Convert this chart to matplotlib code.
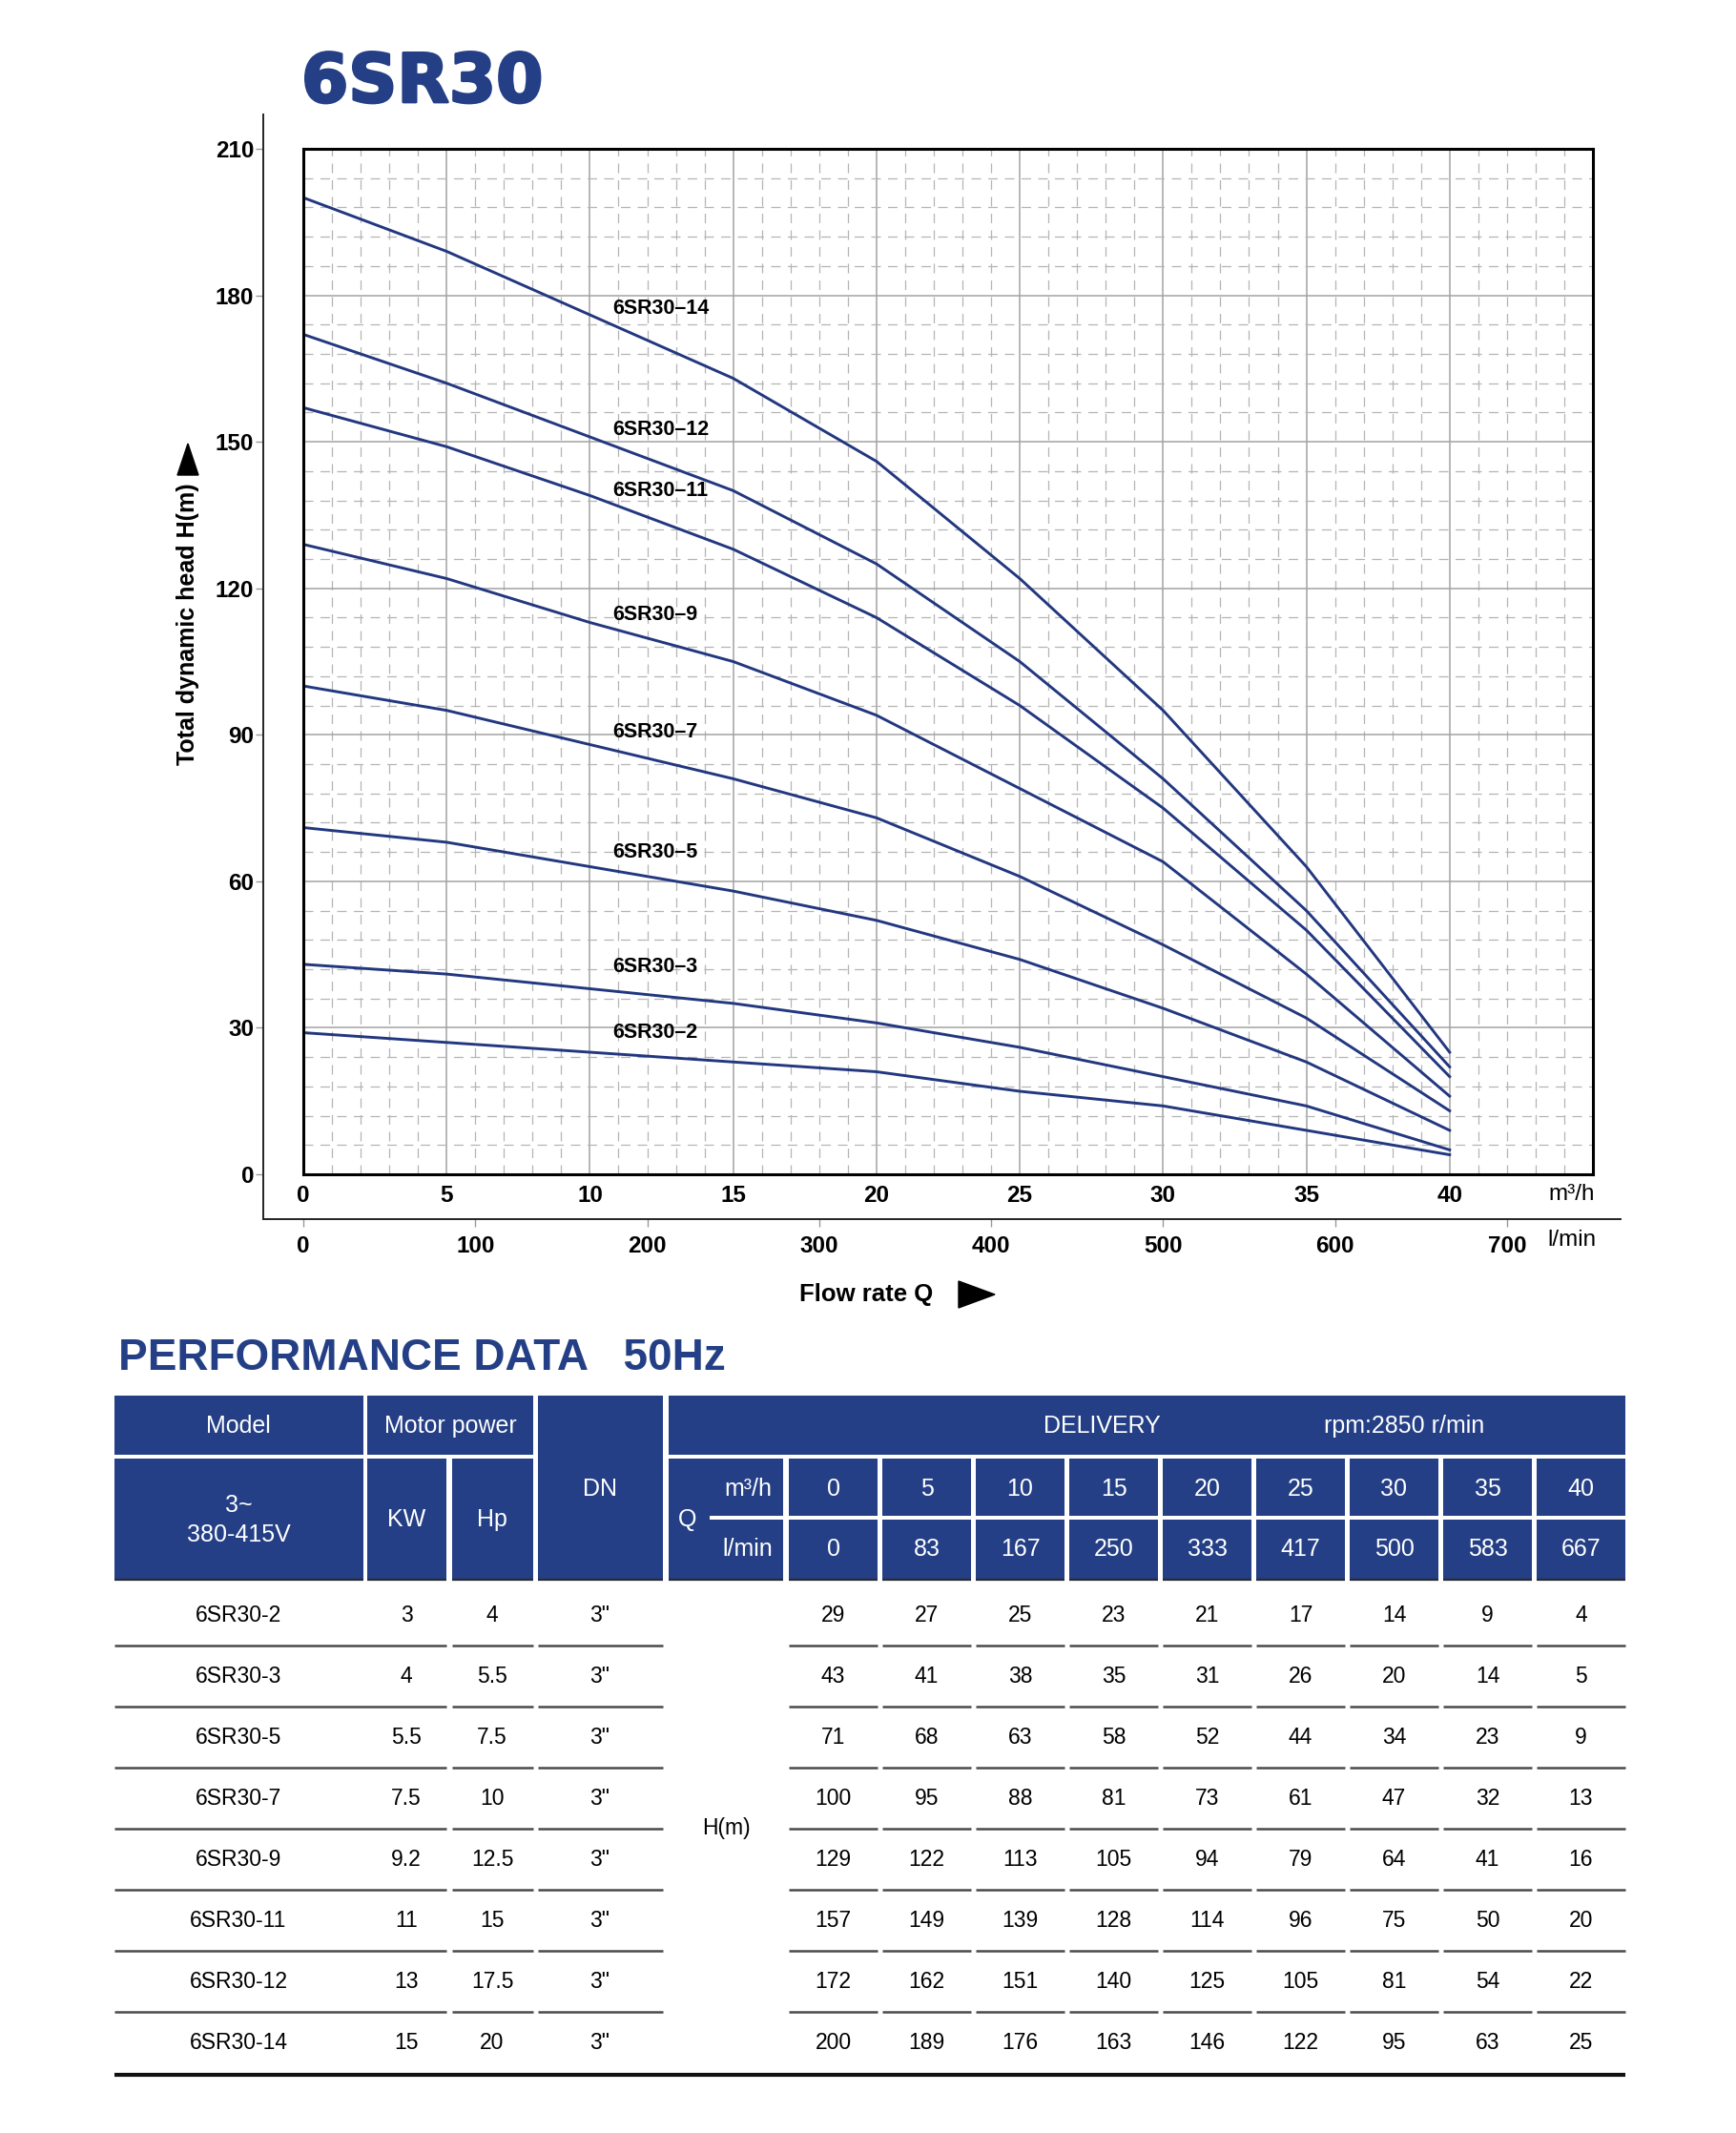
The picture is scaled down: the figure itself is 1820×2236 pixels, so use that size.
import matplotlib
matplotlib.use("Agg")
import matplotlib.pyplot as plt
from matplotlib.patches import Rectangle, Polygon
from matplotlib.ticker import MultipleLocator
import matplotlib.patheffects as pe
import numpy as np

W, H = 1820, 2236

models = ['6SR30-2', '6SR30-3', '6SR30-5', '6SR30-7',
          '6SR30-9', '6SR30-11', '6SR30-12', '6SR30-14']
kw = ['3', '4', '5.5', '7.5', '9.2', '11', '13', '15']
hp = ['4', '5.5', '7.5', '10', '12.5', '15', '17.5', '20']
dn = ['3"'] * 8
q_m3h = [0, 5, 10, 15, 20, 25, 30, 35, 40]
q_lmin = [0, 83, 167, 250, 333, 417, 500, 583, 667]

head_2 = [29, 27, 25, 23, 21, 17, 14, 9, 4]
head_3 = [43, 41, 38, 35, 31, 26, 20, 14, 5]
head_5 = [71, 68, 63, 58, 52, 44, 34, 23, 9]
head_7 = [100, 95, 88, 81, 73, 61, 47, 32, 13]
head_9 = [129, 122, 113, 105, 94, 79, 64, 41, 16]
head_11 = [157, 149, 139, 128, 114, 96, 75, 50, 20]
head_12 = [172, 162, 151, 140, 125, 105, 81, 54, 22]
head_14 = [200, 189, 176, 163, 146, 122, 95, 63, 25]
heads = [head_2, head_3, head_5, head_7, head_9, head_11, head_12, head_14]

curve_names = ['6SR30–2', '6SR30–3', '6SR30–5', '6SR30–7',
               '6SR30–9', '6SR30–11', '6SR30–12', '6SR30–14']
# where each curve name sits (Q, H)
label_pos = [(10.8, 29.1), (10.8, 42.4), (10.8, 66.0), (10.8, 90.5),
             (10.8, 114.5), (10.8, 139.9), (10.8, 152.4), (10.8, 177.2)]

BLUE = '#243f85'
CURVE = '#22377f'

plt.rcParams['font.family'] = ['Liberation Sans', 'DejaVu Sans']

fig = plt.figure(figsize=(W / 100, H / 100), dpi=100)


def box(l, t, r, b):
    return [l / W, 1 - b / H, (r - l) / W, (b - t) / H]


# frame of the chart in pixels
fl, ft, fr, fb = 318, 156, 1670, 1231
xmax, ymax = 45, 210
sx = (fr - fl) / xmax
sy = (fb - ft) / ymax
sl = sx * 60 / 1000

# outer axis (offset spines, H ticks and l/min scale)
ol, ot, orr, ob = 276, 120, 1699, 1278
ax2 = fig.add_axes(box(ol, ot, orr, ob))
ax2.patch.set_visible(False)
ax2.set_xlim((ol - fl) / sl, (orr - fl) / sl)
ax2.set_ylim(-(ob - fb) / sy, ymax + (ft - ot) / sy)
ax2.spines['top'].set_visible(False)
ax2.spines['right'].set_visible(False)
for s in ['left', 'bottom']:
    ax2.spines[s].set_linewidth(1.4)
    ax2.spines[s].set_color('#222222')
ax2.set_xticks(np.arange(0, 701, 100))
ax2.set_yticks(np.arange(0, 211, 30))
ax2.tick_params(axis='y', direction='out', length=6, width=1, color='#999999',
                pad=1, labelsize=17.5)
ax2.tick_params(axis='x', direction='out', length=6, width=1, color='#999999',
                pad=6, labelsize=17.5)
for t in ax2.get_xticklabels() + ax2.get_yticklabels():
    t.set_fontweight('bold')

# main chart
ax = fig.add_axes(box(fl, ft, fr, fb))
ax.set_xlim(0, xmax)
ax.set_ylim(0, ymax)
ax.set_axisbelow(True)
ax.set_xticks(np.arange(0, 41, 5))
ax.set_yticks(np.arange(0, 211, 30))
ax.xaxis.set_minor_locator(MultipleLocator(1))
ax.yaxis.set_minor_locator(MultipleLocator(6))
ax.grid(which='major', color='#a3a3a3', lw=1.1, ls='-')
ax.grid(which='minor', color='#b5b5b5', lw=0.9, ls=(0, (8, 6)))
ax.tick_params(which='both', length=0)
ax.tick_params(axis='x', pad=8, labelsize=17.5)
ax.tick_params(axis='y', labelleft=False)
for t in ax.get_xticklabels():
    t.set_fontweight('bold')
for s in ax.spines.values():
    s.set_linewidth(2.2)
    s.set_color('black')

for name, h, (lx, ly) in zip(curve_names, heads, label_pos):
    ax.plot(q_m3h, h, color=CURVE, lw=2.1, solid_joinstyle='round')
    ax.text(lx, ly, name, fontsize=15.5, fontweight='bold', ha='left', va='center')

# overlay in pixel coordinates for titles and the table
ov = fig.add_axes([0, 0, 1, 1])
ov.set_xlim(0, W)
ov.set_ylim(H, 0)
ov.axis('off')

ov.text(316, 107, '6SR30', fontsize=51, fontweight='bold', color=BLUE,
        family='DejaVu Sans', ha='left', va='baseline',
        path_effects=[pe.withStroke(linewidth=2, foreground=BLUE)])

ov.text(197, 654, 'Total dynamic head H(m)', rotation=90, ha='center', va='center',
        fontsize=18, fontweight='bold')
ov.add_patch(Polygon([(186, 498), (208, 498), (197, 465)], closed=True, color='black'))

ov.text(838, 1357, 'Flow rate Q', ha='left', va='center', fontsize=18.5, fontweight='bold')
ov.add_patch(Polygon([(1005, 1343), (1005, 1371), (1043, 1357)], closed=True, color='black'))

ov.text(1648, 1252, 'm³/h', ha='center', va='center', fontsize=17.5)
ov.text(1648, 1300, 'l/min', ha='center', va='center', fontsize=17.5)

# ---- performance table ----
ov.text(124, 1436, 'PERFORMANCE DATA   50Hz', fontsize=33, fontweight='bold',
        color=BLUE, ha='left', va='baseline')

r1t, r1b = 1463, 1525
r2t, r2m1, r2m2, r2b = 1529, 1589, 1593, 1656
body_top = 1661


def cell(l, t, r, b):
    ov.add_patch(Rectangle((l, t), r - l, b - t, facecolor=BLUE, edgecolor='none'))


cell(120, r1t, 381, r1b)
cell(120, r2t, 381, r2b)
cell(385, r1t, 559, r1b)
cell(385, r2t, 468, r2b)
cell(474, r2t, 559, r2b)
cell(564, r1t, 695, r2b)
cell(701, r1t, 1704, r1b)
cell(701, r2t, 821, r2b)
col_l = [827 + 98 * i for i in range(9)]
col_w = 93
for l in col_l:
    cell(l, r2t, l + col_w, r2m1)
    cell(l, r2m2, l + col_w, r2b)
# white split line inside the Q cell
ov.add_patch(Rectangle((744, r2m1), 821 - 744, r2m2 - r2m1, facecolor='white', edgecolor='none'))

# dark edge under the header
for a, b in [(120, 381), (385, 468), (474, 559), (564, 695), (701, 821)] + \
        [(l, l + col_w) for l in col_l]:
    ov.plot([a, b], [r2b, r2b], color='#2a2a2a', lw=1.6, solid_capstyle='butt')

hk = dict(color='white', fontsize=18, ha='center', va='center')
ov.text(250, 1495, 'Model', **hk)
ov.text(472, 1495, 'Motor power', **hk)
ov.text(629, 1561, 'DN', **hk)
ov.text(1155, 1495, 'DELIVERY', **hk)
ov.text(1472, 1495, 'rpm:2850 r/min', **hk)
ov.text(250, 1578, '3~', **hk)
ov.text(250, 1609, '380-415V', **hk)
ov.text(426, 1593, 'KW', **hk)
ov.text(516, 1593, 'Hp', **hk)
ov.text(721, 1593, 'Q', **hk)
ov.text(784, 1561, 'm³/h', **hk)
ov.text(784, 1624, 'l/min', **hk)
for l, a, b in zip(col_l, q_m3h, q_lmin):
    ov.text(l + col_w / 2, 1561, str(a), **hk)
    ov.text(l + col_w / 2, 1624, str(b), **hk)

# body rows
row_h = 64
bk = dict(color='black', fontsize=16.5, ha='center', va='center')
for r in range(8):
    yc = body_top + row_h * r + row_h / 2
    ov.text(250, yc, models[r], **bk)
    ov.text(426, yc, kw[r], **bk)
    ov.text(516, yc, hp[r], **bk)
    ov.text(629, yc, dn[r], **bk)
    for l, v in zip(col_l, heads[r]):
        ov.text(l + col_w / 2, yc, str(v), **bk)
    if r < 7:
        ys = body_top + row_h * (r + 1)
        for a, b in [(120, 468), (474, 559), (564, 695)] + [(l, l + col_w) for l in col_l]:
            ov.plot([a, b], [ys, ys], color='#4a4a4a', lw=1.8, solid_capstyle='butt')

ov.text(761, body_top + row_h * 4, 'H(m)', **bk)
ov.plot([120, 1704], [body_top + row_h * 8 + 2, body_top + row_h * 8 + 2], color='#111111',
        lw=3, solid_capstyle='butt')

fig.savefig('out.png', dpi=100)
